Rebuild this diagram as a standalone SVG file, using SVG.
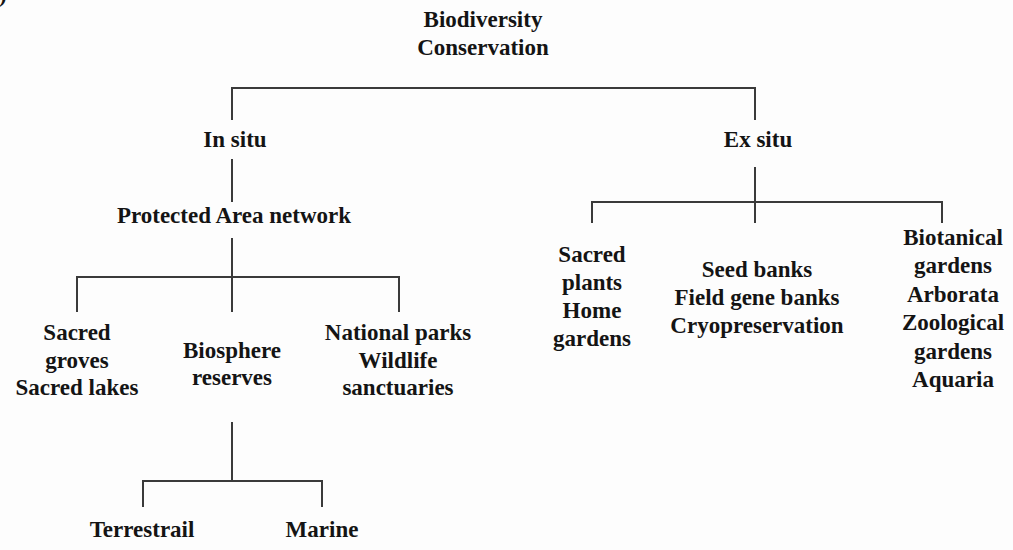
<svg xmlns="http://www.w3.org/2000/svg" width="1013" height="550" viewBox="0 0 1013 550">
<style>
text{font-family:"Liberation Serif","Times New Roman",serif;font-weight:bold;font-size:23px;fill:#141414;text-anchor:middle}
.c{fill:none;stroke:#3a3a3a;stroke-width:2}
</style>
<rect width="1013" height="550" fill="#fdfdfd"/>
<text x="-1" y="2" style="text-anchor:start">)</text>
<g id="connectors" class="c">
<path d="M232,120 V88 H755 V120"/>
<path d="M232,159 V202"/>
<path d="M232,238 V312 M77,312 V277 H399 V312"/>
<path d="M755,167 V223 M592,223 V202 H942 V223"/>
<path d="M232,422 V481 M143,507 V481 H322 V507"/>
</g>
<g id="root"><text x="483" y="27">Biodiversity</text><text x="483" y="55">Conservation</text></g>
<g id="insitu"><text x="235" y="147">In situ</text></g>
<g id="exsitu"><text x="758" y="147">Ex situ</text></g>
<g id="pan"><text x="234" y="223">Protected Area network</text></g>
<g id="sacred"><text x="77" y="340">Sacred</text><text x="77" y="367.5">groves</text><text x="77" y="395">Sacred lakes</text></g>
<g id="biosphere"><text x="232" y="358">Biosphere</text><text x="232" y="385">reserves</text></g>
<g id="national"><text x="398" y="340">National parks</text><text x="398" y="367.5">Wildlife</text><text x="398" y="395">sanctuaries</text></g>
<g id="sacredplants"><text x="592" y="262">Sacred</text><text x="592" y="290">plants</text><text x="592" y="318">Home</text><text x="592" y="346">gardens</text></g>
<g id="banks"><text x="757" y="277">Seed banks</text><text x="757" y="305">Field gene banks</text><text x="757" y="333">Cryopreservation</text></g>
<g id="gardens"><text x="953" y="245">Biotanical</text><text x="953" y="273">gardens</text><text x="953" y="302">Arborata</text><text x="953" y="330">Zoological</text><text x="953" y="359">gardens</text><text x="953" y="387">Aquaria</text></g>
<g id="terrestrail"><text x="142" y="537">Terrestrail</text></g>
<g id="marine"><text x="322" y="537">Marine</text></g>
</svg>
